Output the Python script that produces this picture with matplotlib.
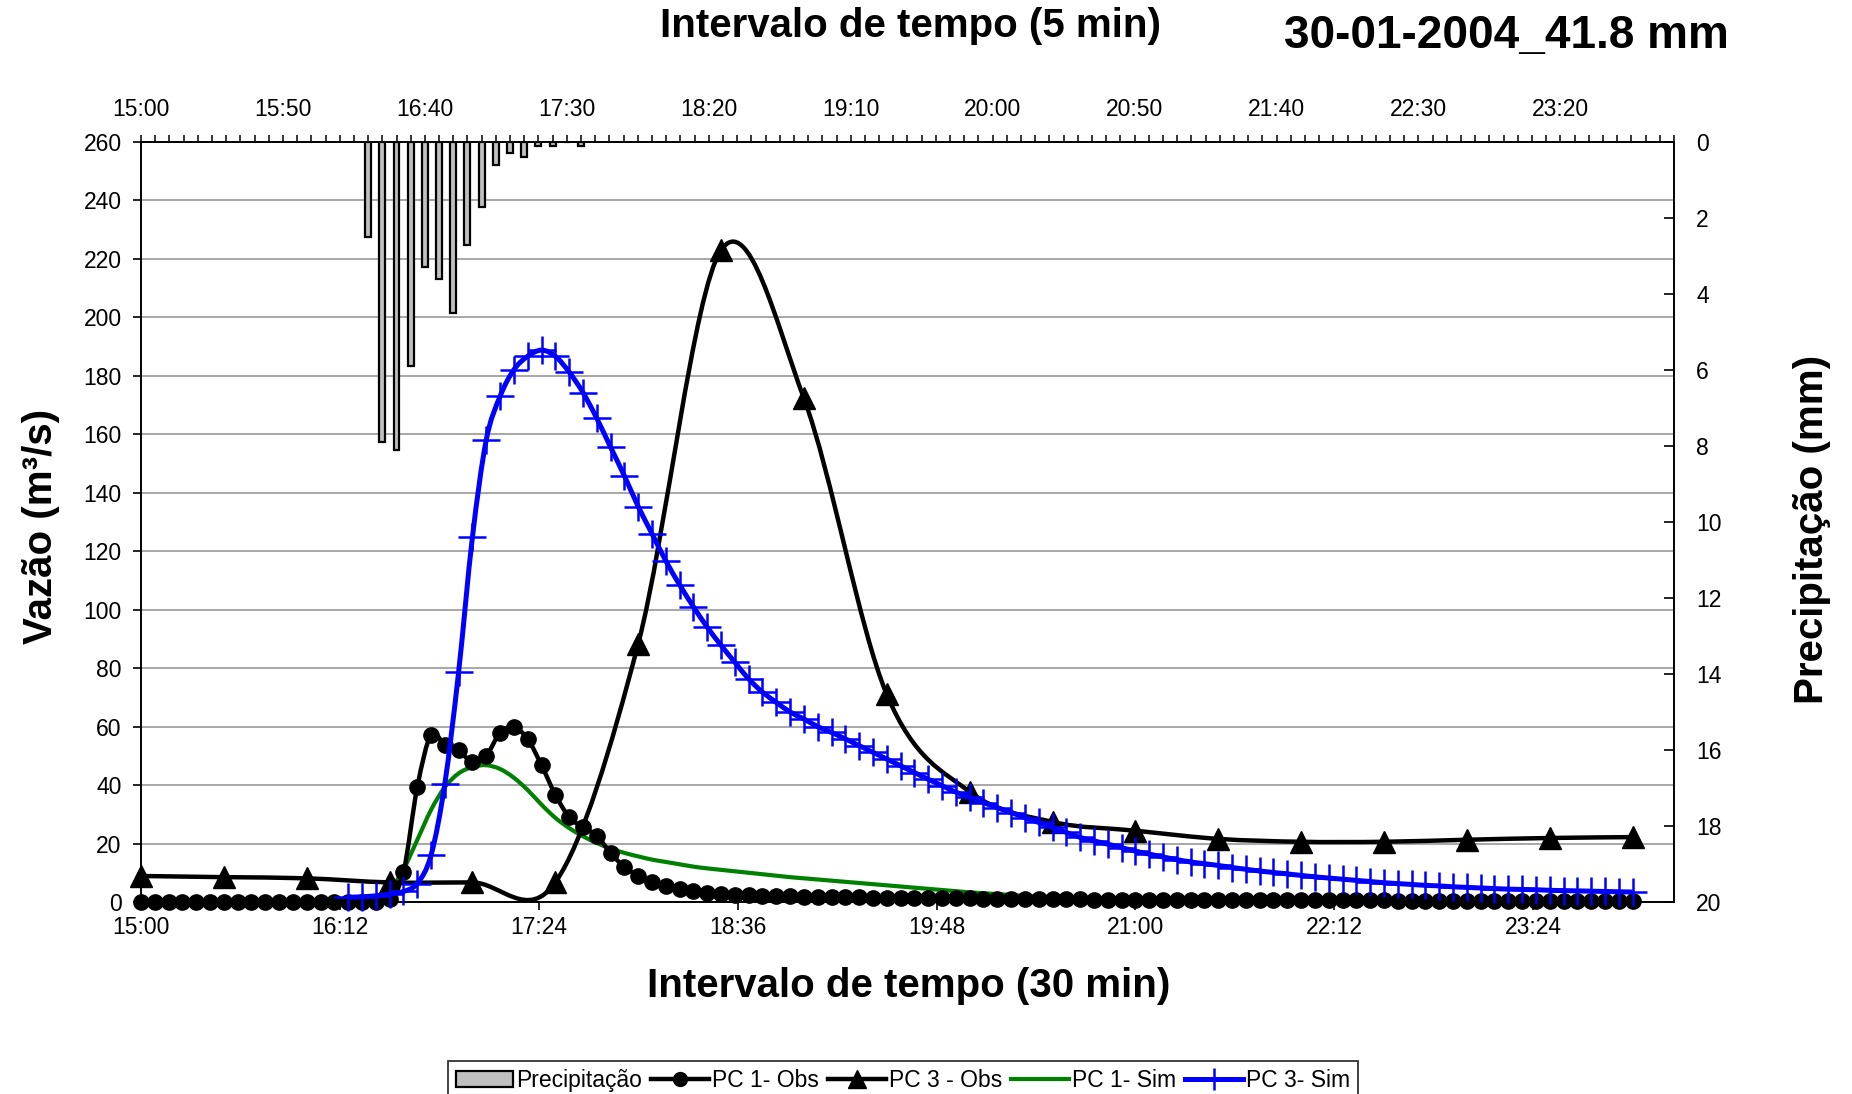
import numpy as np
import matplotlib
matplotlib.use("Agg")
import matplotlib.pyplot as plt
from matplotlib.path import Path
from matplotlib.patches import PathPatch, Patch
from matplotlib.lines import Line2D

plt.rcParams['font.family'] = ['Liberation Sans', 'DejaVu Sans']

# ---------------- data ----------------
# minutes after 15:00, 5-minute steps (15:00 .. 24:00)
minutes_5 = np.arange(0, 545, 5)
# minutes after 15:00, 30-minute steps
minutes_30 = np.arange(0, 545, 30)

pc1_obs = [0, 0, 0, 0, 0, 0, 0, 0, 0, 0, 0, 0, 0, 0, 0, 0, 0, 0,
           1.0, 10.1, 39.2, 57.2, 53.8, 51.9, 47.8, 50.1, 57.9, 59.8, 55.7, 46.8,
           36.7, 29.1, 25.5, 22.7, 16.7, 12.0, 9.0, 7.0, 5.5, 4.5, 3.7, 3.1,
           2.8, 2.5, 2.3, 2.1, 2.0, 1.9, 1.8, 1.7, 1.7, 1.6, 1.6, 1.5,
           1.5, 1.4, 1.4, 1.3, 1.3, 1.2, 1.2, 1.1, 1.1, 1.0, 1.0, 1.0,
           0.9, 0.9, 0.9, 0.8, 0.8, 0.8, 0.8,
           0.7, 0.7, 0.7, 0.7, 0.7, 0.7, 0.7, 0.7,
           0.6, 0.6, 0.6, 0.6, 0.6, 0.6, 0.6, 0.6, 0.6, 0.6,
           0.5, 0.5, 0.5, 0.5, 0.5, 0.5, 0.5, 0.5, 0.5,
           0.4, 0.4, 0.4, 0.4, 0.4,
           0.3, 0.3, 0.3, 0.3]

pc3_obs = [8.9, 8.5, 8.1, 6.7, 6.7, 6.7, 88.3, 223.0, 172.3, 71.0,
           37.7, 27.4, 24.4, 21.6, 20.6, 20.6, 21.3, 21.9, 22.2]

# simulated series start later in the event
pc1_sim_start = 85
pc1_sim = [0.3, 4.0, 11.1, 21.2, 31.5, 39.3, 44.0, 46.2, 46.8, 45.5,
           42.5, 38.3, 33.3, 28.8, 25.3, 22.5, 20.2, 18.3, 16.8, 15.6,
           14.5, 13.7, 12.9, 12.1, 11.5, 11.0, 10.5, 10.0, 9.5, 9.0,
           8.5, 8.1, 7.7, 7.3, 6.9, 6.5, 6.1, 5.7, 5.3, 4.9,
           4.5, 4.1, 3.7, 3.3, 3.0, 2.7, 2.4, 2.1, 1.9, 1.7,
           1.5, 1.3, 1.2, 1.1, 1.0, 0.9,
           0.8, 0.8, 0.8, 0.8, 0.8, 0.8, 0.8, 0.8,
           0.7, 0.7, 0.7, 0.7, 0.7, 0.7, 0.7, 0.7, 0.7, 0.7,
           0.6, 0.6, 0.6, 0.6, 0.6, 0.6, 0.6, 0.6, 0.6,
           0.5, 0.5, 0.5, 0.5, 0.5, 0.5, 0.5, 0.5, 0.5]

pc3_sim_start = 75
pc3_sim = [1.6, 1.8, 2.1, 2.7, 3.6, 6.3, 16.0, 40.5, 78.8, 124.9,
           158.1, 173.0, 182.1, 186.7, 188.8, 186.7, 181.3, 174.3, 165.5, 155.6,
           145.8, 135.3, 126.0, 116.7, 108.5, 101.0, 94.0, 87.8, 82.0, 76.3,
           71.8, 68.3, 65.0, 62.6, 60.0, 58.0, 55.8, 53.5, 51.2, 48.9,
           46.6, 44.3, 42.0, 39.8, 37.6, 35.8, 34.0, 32.3, 30.6, 28.9,
           27.2, 25.5, 23.8, 22.1, 20.9, 19.8, 18.6, 17.4, 16.4, 15.4,
           14.5, 13.7, 13.1, 12.5, 11.8, 11.2, 10.6, 10.1, 9.6, 9.1,
           8.6, 8.2, 7.8, 7.4, 7.0, 6.6, 6.3, 6.0, 5.7, 5.5,
           5.2, 5.0, 4.8, 4.6, 4.4, 4.3, 4.2, 4.0, 3.9, 3.8,
           3.7, 3.6, 3.5, 3.4]

# precipitation, 5-minute bins (top category axis)
precip_times = ['16:20', '16:25', '16:30', '16:35', '16:40', '16:45', '16:50', '16:55',
                '17:00', '17:05', '17:10', '17:15', '17:20', '17:25', '17:30', '17:35']
precip_mm = [2.5, 7.9, 8.1, 5.9, 3.3, 3.6, 4.5, 2.7, 1.7, 0.6, 0.3, 0.4, 0.1, 0.1, 0.0, 0.1]

bottom_tick_minutes = [0, 72, 144, 216, 288, 360, 432, 504]
bottom_tick_labels = ['15:00', '16:12', '17:24', '18:36', '19:48', '21:00', '22:12', '23:24']
top_tick_labels = ['15:00', '15:50', '16:40', '17:30', '18:20', '19:10', '20:00',
                   '20:50', '21:40', '22:30', '23:20']
n_categories = 108  # 5-min categories between 15:00 and 24:00


def to_category(hhmm):
    h, m = hhmm.split(':')
    return ((int(h) - 15) * 60 + int(m)) / 5.0


def smooth_path(x, y):
    """Excel-style smoothed line: cubic Bezier through every point."""
    x = np.asarray(x, float)
    y = np.asarray(y, float)
    n = len(x)
    verts = [(x[0], y[0])]
    codes = [Path.MOVETO]
    for i in range(n - 1):
        ip, inn = max(i - 1, 0), min(i + 2, n - 1)
        c1 = (x[i] + (x[i + 1] - x[ip]) / 6.0, y[i] + (y[i + 1] - y[ip]) / 6.0)
        c2 = (x[i + 1] - (x[inn] - x[i]) / 6.0, y[i + 1] - (y[inn] - y[i]) / 6.0)
        verts += [c1, c2, (x[i + 1], y[i + 1])]
        codes += [Path.CURVE4] * 3
    return Path(verts, codes)


# ---------------- figure ----------------
W, H = 1852, 1094
fig = plt.figure(figsize=(W / 100, H / 100), dpi=100)
L, R, T, B = 141, 1674, 142, 902
rect = [L / W, 1 - B / H, (R - L) / W, (B - T) / H]

ax = fig.add_axes(rect)
ax2 = fig.add_axes(rect, frameon=False)
ax2.set_zorder(ax.get_zorder() + 1)

# primary axes: flow
ax.set_xlim(0, 555)
ax.set_ylim(0, 260)
ax.set_yticks(np.arange(0, 261, 20))
ax.set_xticks(bottom_tick_minutes)
ax.set_xticklabels(bottom_tick_labels)
ax.yaxis.grid(True, color='#a0a0a0', linewidth=1.3)
ax.set_axisbelow(True)
for s in ax.spines.values():
    s.set_linewidth(1.4)
    s.set_color('black')
ax.tick_params(axis='both', labelsize=16.5, direction='out', length=6, width=1.2)
ax.tick_params(axis='y', pad=8)
ax.tick_params(axis='x', pad=4)

# secondary axes: precipitation (top category axis, right inverted axis)
cat_x = [to_category(t) for t in precip_times]
ax2.bar(cat_x, precip_mm, width=0.42, bottom=0, color='#c0c0c0',
        edgecolor='black', linewidth=1.6, zorder=1)

# flow series drawn above the bars, in the primary data coordinates
tr = ax.transData
t_pc1_sim = minutes_5[minutes_5 >= pc1_sim_start]
t_pc3_sim = minutes_5[minutes_5 >= pc3_sim_start]

ax2.add_patch(PathPatch(smooth_path(t_pc1_sim, pc1_sim), fill=False, edgecolor='#008000',
                        linewidth=3.0, transform=tr, zorder=2))

ax2.add_patch(PathPatch(smooth_path(minutes_5, pc1_obs), fill=False, edgecolor='black',
                        linewidth=3.2, transform=tr, zorder=3))
ax2.plot(minutes_5, pc1_obs, linestyle='none', marker='o', markersize=11,
         color='black', transform=tr, zorder=3.1, clip_on=False)

ax2.add_patch(PathPatch(smooth_path(minutes_30, pc3_obs), fill=False, edgecolor='black',
                        linewidth=3.2, transform=tr, zorder=4))
ax2.plot(minutes_30, pc3_obs, linestyle='none', marker='^', markersize=16,
         color='black', transform=tr, zorder=4.1, clip_on=False)

ax2.add_patch(PathPatch(smooth_path(t_pc3_sim, pc3_sim), fill=False, edgecolor='#0000ff',
                        linewidth=3.6, transform=tr, zorder=5))
ax2.plot(t_pc3_sim, pc3_sim, linestyle='none', marker='+', markersize=20,
         markeredgewidth=1.8, color='#0000ff', transform=tr, zorder=5.1, clip_on=False)

ax2.set_xlim(0, n_categories)
ax2.set_ylim(20, 0)
ax2.xaxis.set_ticks_position('top')
ax2.yaxis.set_ticks_position('right')
ax2.set_xticks(np.arange(0, 101, 10))
ax2.set_xticklabels(top_tick_labels)
ax2.set_xticks(np.arange(0, n_categories + 1, 1), minor=True)
ax2.set_yticks(np.arange(0, 21, 2))
ax2.tick_params(axis='x', which='both', top=True, bottom=False, labeltop=True,
                labelbottom=False, direction='out', length=5, width=1.1,
                labelsize=16.5, pad=10)
ax2.tick_params(axis='y', right=True, left=False, labelright=True, labelleft=False,
                direction='in', length=7, width=1.2, labelsize=16.5, pad=16)

# ---------------- texts ----------------
fig.text(910 / W, 1 - 26 / H, 'Intervalo de tempo (5 min)', ha='center', va='center',
         fontsize=29, fontweight='bold')
fig.text(1506 / W, 1 - 36 / H, '30-01-2004_41.8 mm', ha='center', va='center',
         fontsize=33, fontweight='bold')
fig.text(909 / W, 1 - 986 / H, 'Intervalo de tempo (30 min)', ha='center', va='center',
         fontsize=29, fontweight='bold')
fig.text(41 / W, 1 - 526 / H, 'Vazão (m³/s)', ha='center', va='center', rotation=90,
         fontsize=29, fontweight='bold')
fig.text(1812 / W, 1 - 529 / H, 'Precipitação (mm)', ha='center', va='center', rotation=90,
         fontsize=29, fontweight='bold')

# ---------------- legend ----------------
handles = [
    Patch(facecolor='#c0c0c0', edgecolor='black', linewidth=1.6),
    Line2D([], [], color='black', lw=3.2, marker='o', markersize=10),
    Line2D([], [], color='black', lw=3.2, marker='^', markersize=13),
    Line2D([], [], color='#008000', lw=3.0),
    Line2D([], [], color='#0000ff', lw=3.6, marker='+', markersize=16, markeredgewidth=1.8),
]
labels = ['Precipitação', 'PC 1- Obs', 'PC 3 - Obs', 'PC 1- Sim', 'PC 3- Sim']
leg = fig.legend(handles, labels, loc='upper center', bbox_to_anchor=(903 / W, 1 - 1061 / H),
                 ncol=5, fontsize=16.5, frameon=True, fancybox=False, edgecolor='black',
                 handlelength=2.5, handletextpad=0.15, columnspacing=0.4, borderpad=0.35,
                 borderaxespad=0)
leg.get_frame().set_linewidth(1.3)

fig.savefig('out.png', dpi=100)
